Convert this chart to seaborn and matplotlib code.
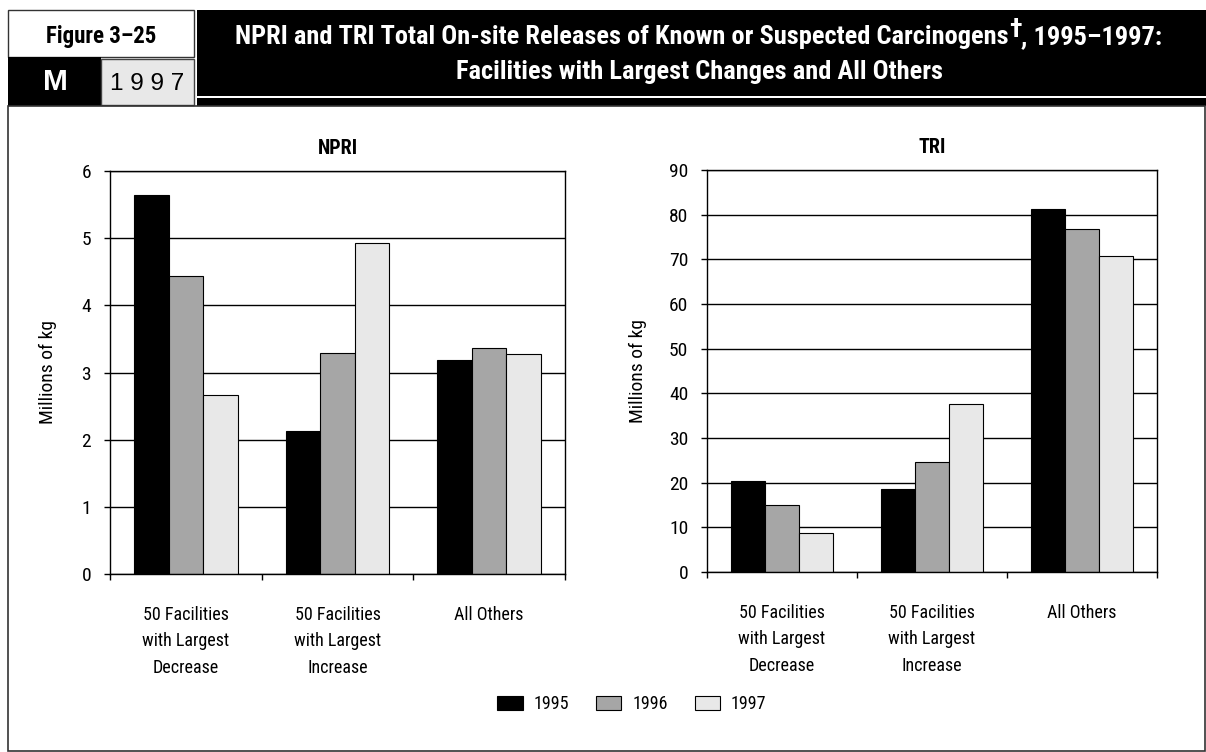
import pandas as pd
import matplotlib
matplotlib.use("Agg")
import matplotlib.pyplot as plt
from matplotlib.patches import Rectangle
import seaborn as sns

sns.set_theme(style="white")
plt.rcParams["font.family"] = ["Roboto Condensed", "DejaVu Sans"]
plt.rcParams["text.color"] = "black"
plt.rcParams["axes.labelcolor"] = "black"
plt.rcParams["xtick.color"] = "black"
plt.rcParams["ytick.color"] = "black"

# data
CATEGORIES = ["50 Facilities\nwith Largest\nDecrease", "50 Facilities\nwith Largest\nIncrease", "All Others"]
YEARS = ["1995", "1996", "1997"]
NPRI_1995 = [5.65, 2.13, 3.18]
NPRI_1996 = [4.44, 3.29, 3.36]
NPRI_1997 = [2.67, 4.93, 3.27]
TRI_1995 = [20.4, 18.6, 81.3]
TRI_1996 = [14.9, 24.7, 76.9]
TRI_1997 = [8.8, 37.6, 70.8]
BAR_COLORS = ["#000000", "#a6a6a6", "#e8e8e8"]


def long_table(series):
    rows = []
    for year, values in zip(YEARS, series):
        for cat, v in zip(CATEGORIES, values):
            rows.append({"category": cat, "year": year, "value": v})
    return pd.DataFrame(rows)


npri = long_table([NPRI_1995, NPRI_1996, NPRI_1997])
tri = long_table([TRI_1995, TRI_1996, TRI_1997])

W, H = 1206, 752
fig = plt.figure(figsize=(W / 100, H / 100), dpi=100)


def fx(x):
    return x / W


def fy(y):
    return 1 - y / H


def box(x0, y0, x1, y1, **kw):
    fig.add_artist(Rectangle((fx(x0), fy(y1)), (x1 - x0) / W, (y1 - y0) / H,
                             transform=fig.transFigure, **kw))


# header blocks and outer frame
box(8, 10, 194, 57, facecolor="white", edgecolor="#333333", lw=1)
box(8, 57, 101, 106, facecolor="black", edgecolor="black", lw=0)
box(101, 59, 194, 105, facecolor="#e8e8e8", edgecolor="#444444", lw=1)
box(197, 10, 1206, 96, facecolor="black", edgecolor="black", lw=0)
box(197, 98, 1206, 106, facecolor="black", edgecolor="black", lw=0)
box(8, 106, 1205, 751, facecolor="none", edgecolor="#333333", lw=1.2)

fig.text(fx(101), fy(42.5), "Figure 3\u201325", ha="center", va="baseline",
         fontsize=16.5, fontweight="bold", color="black")
fig.text(fx(55), fy(90.5), "M", ha="center", va="baseline", fontsize=21.5,
         fontweight="bold", color="white", family=["Liberation Sans", "DejaVu Sans"])
fig.text(fx(147), fy(90.5), "1 9 9 7", ha="center", va="baseline", fontsize=17.5,
         color="black", family=["Liberation Sans", "DejaVu Sans"])

# title line 1 with raised dagger, built from pieces
title_kw = dict(fontsize=19, fontweight="bold", color="white", va="baseline", ha="left")
t1 = fig.text(0, fy(44), "NPRI and TRI Total On-site Releases of Known or Suspected Carcinogens", **title_kw)
t2 = fig.text(0, fy(37), "\u2020", **title_kw)
t3 = fig.text(0, fy(44), ", 1995\u20131997:", **title_kw)
renderer = fig.canvas.get_renderer()
widths = [t.get_window_extent(renderer).width for t in (t1, t2, t3)]
x = 699 - sum(widths) / 2
for t, w in zip((t1, t2, t3), widths):
    t.set_x(fx(x))
    x += w
fig.text(fx(699), fy(79), "Facilities with Largest Changes and All Others", ha="center",
         va="baseline", fontsize=19, fontweight="bold", color="white")

ax_npri = fig.add_axes([fx(110), fy(574), (565 - 110) / W, (574 - 171) / H])
ax_tri = fig.add_axes([fx(707), fy(572), (1157 - 707) / W, (572 - 170) / H])

panels = [
    (ax_npri, npri, "NPRI", 6, 1, -0.117),
    (ax_tri, tri, "TRI", 90, 10, -0.133),
]
for ax, df, name, ymax, step, label_x in panels:
    sns.barplot(data=df, x="category", y="value", hue="year", order=CATEGORIES,
                hue_order=YEARS, palette=BAR_COLORS, width=0.685, gap=0,
                edgecolor="black", linewidth=0.8, saturation=1, ax=ax)
    ax.set_ylim(0, ymax)
    ax.set_xlim(-0.5, 2.5)
    ax.set_yticks(range(0, ymax + 1, step))
    ax.set_axisbelow(True)
    ax.yaxis.grid(True, color="black", linewidth=1)
    ax.xaxis.grid(False)
    for s in ax.spines.values():
        s.set_visible(True)
        s.set_color("black")
        s.set_linewidth(1)
    ax.set_title(name, fontsize=14.5, fontweight="bold", pad=12)
    ax.set_xlabel("")
    ax.set_ylabel("Millions of kg", fontsize=14)
    ax.yaxis.set_label_coords(label_x, 0.5)
    ax.tick_params(axis="y", which="major", left=True, length=4.5, width=1,
                   direction="out", pad=9, labelsize=14, color="black")
    ax.set_xticks([-0.5, 0.5, 1.5, 2.5], minor=True)
    ax.tick_params(axis="x", which="minor", bottom=True, length=4.5, width=1,
                   direction="out", color="black")
    ax.tick_params(axis="x", which="major", length=0, pad=23, labelsize=13)
    for lab in ax.get_xticklabels():
        lab.set_multialignment("center")
        lab.set_linespacing(1.6)

handles, labels = ax_npri.get_legend_handles_labels()
for ax in (ax_npri, ax_tri):
    if ax.get_legend() is not None:
        ax.get_legend().remove()
fig.legend(handles, labels, loc="center", bbox_to_anchor=(fx(632), fy(704)), ncol=3,
           frameon=False, fontsize=13, handlelength=1.4, handleheight=0.85,
           columnspacing=1.5, handletextpad=0.6)

fig.savefig("out.png", dpi=100)
